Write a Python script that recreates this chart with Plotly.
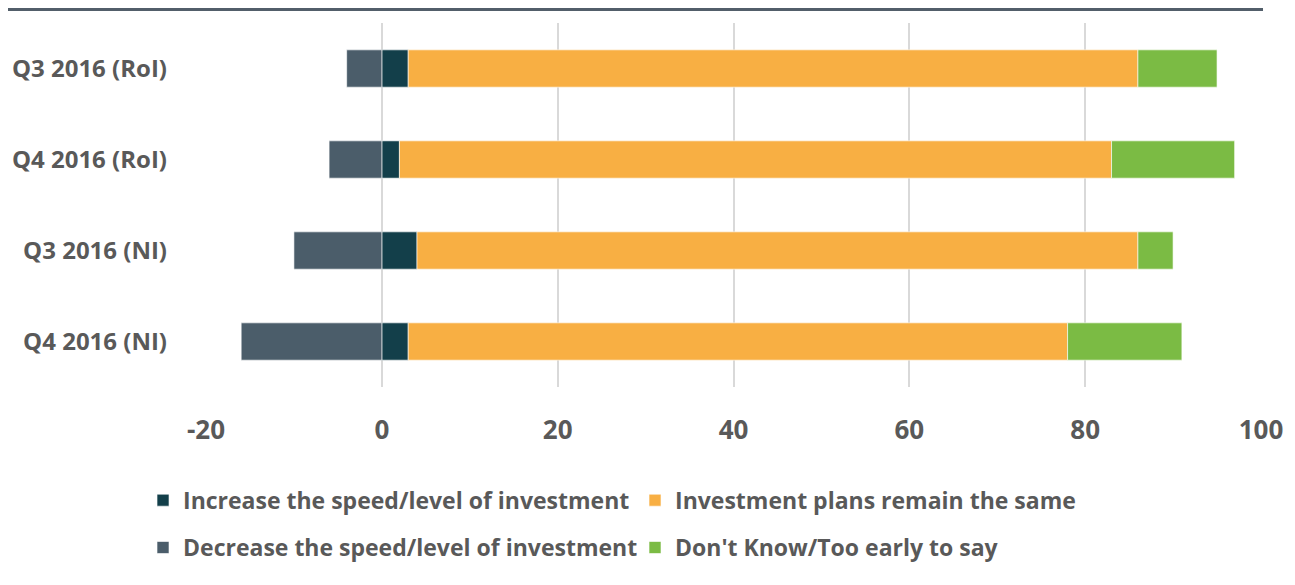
import plotly.graph_objects as go

categories = ["Q3 2016 (RoI)", "Q4 2016 (RoI)", "Q3 2016 (NI)", "Q4 2016 (NI)"]
increase = [3, 2, 4, 3]
remain_same = [83, 81, 82, 75]
decrease = [-4, -6, -10, -16]
dont_know = [9, 14, 4, 13]
x_ticks = [-20, 0, 20, 40, 60, 80, 100]

FONT = "Open Sans"
TXT = "#595959"
outline = dict(color="rgba(255,255,255,0.6)", width=1)

fig = go.Figure()
fig.add_trace(go.Bar(y=categories, x=increase, orientation="h", name="Increase the speed/level of investment",
                     marker=dict(color="#133F4A", line=outline), legend="legend"))
fig.add_trace(go.Bar(y=categories, x=remain_same, orientation="h", name="Investment plans remain the same",
                     marker=dict(color="#F8AF43", line=outline), legend="legend"))
fig.add_trace(go.Bar(y=categories, x=decrease, orientation="h", name="Decrease the speed/level of investment",
                     marker=dict(color="#4B5D6A", line=outline), legend="legend2"))
fig.add_trace(go.Bar(y=categories, x=dont_know, orientation="h", name="Don't Know/Too early to say",
                     marker=dict(color="#7BBB44", line=outline), legend="legend2"))

legend_common = dict(orientation="h", xanchor="left", yanchor="top", x=-0.0597,
                     font=dict(family=FONT, size=23, color=TXT, weight="bold"),
                     entrywidth=447, traceorder="normal", bgcolor="rgba(0,0,0,0)")

fig.update_layout(
    width=1295, height=585,
    barmode="relative",
    bargap=0.59,
    plot_bgcolor="white", paper_bgcolor="white",
    margin=dict(l=198, r=42, t=15, b=206, autoexpand=False),
    font=dict(family=FONT, size=22, color=TXT),
    xaxis=dict(range=[-20, 100], tickvals=x_ticks, ticktext=[str(v) for v in x_ticks],
               showgrid=True, gridcolor="#D9D9D9", gridwidth=2, automargin=False,
               zeroline=False, showline=False, ticks="", ticklabelstandoff=25,
               tickfont=dict(family=FONT, size=26, color=TXT, weight="bold")),
    yaxis=dict(autorange="reversed", showgrid=False, zeroline=False, showline=False, ticks="",
               ticklabelstandoff=38, automargin=False,
               tickfont=dict(family=FONT, size=24, color=TXT, weight="bold")),
    legend=dict(y=-0.252, **legend_common),
    legend2=dict(y=-0.382, **legend_common),
    shapes=[dict(type="line", xref="paper", yref="paper", x0=-0.1877, x1=1.0019, y0=1.037, y1=1.037,
                 line=dict(color="#525E6A", width=3))],
)

fig.write_html("out.html")
